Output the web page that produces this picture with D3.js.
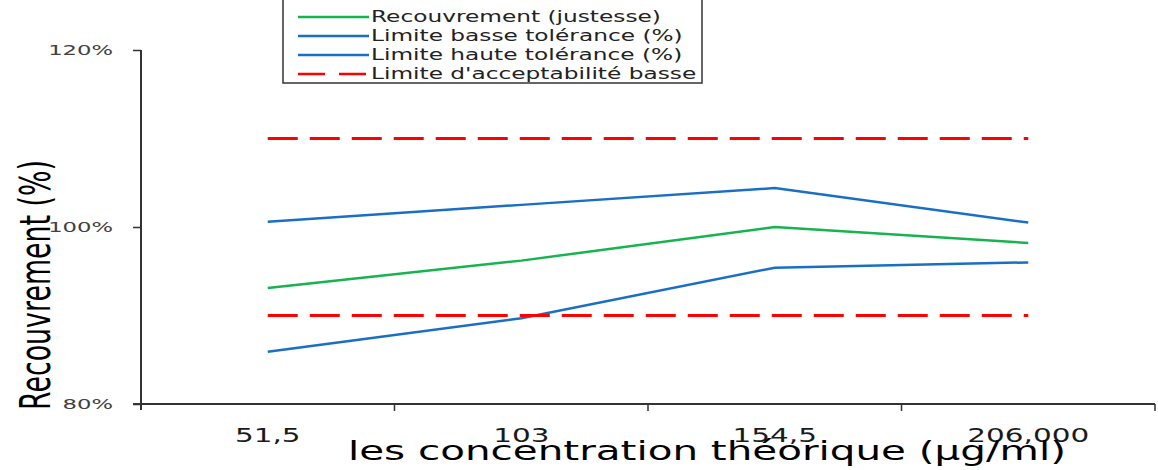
<!DOCTYPE html>
<html>
<head>
<meta charset="utf-8">
<script src="https://cdn.jsdelivr.net/npm/d3@7"></script>
<style>
  html, body { margin: 0; padding: 0; background: #fff; }
  svg { display: block; }
  text { font-family: "DejaVu Sans", Verdana, sans-serif; }
</style>
</head>
<body>
<svg id="chart" width="1158" height="470"></svg>
<script>
// Concentration levels (µg/ml) shown on the category axis
const categories = ["51,5", "103", "154,5", "206,000"];

// Recovery (%) per level
const recouvrement = [93.1, 96.2, 100.0, 98.2];
const limiteBasseTolerance = [85.9, 89.7, 95.4, 96.0];
const limiteHauteTolerance = [100.6, 102.5, 104.4, 100.5];
const acceptabiliteBasse = [90, 90, 90, 90];
const acceptabiliteHaute = [110, 110, 110, 110];

const yTicks = [80, 100, 120];
const legendLabels = [
  "Recouvrement (justesse)",
  "Limite basse tolérance (%)",
  "Limite haute tolérance (%)",
  "Limite d'acceptabilité basse"
];

const GREEN = "#17b34f", BLUE = "#1a6fc4", RED = "#ff0000", AXIS = "#333";

const svg = d3.select("#chart");

const x = d3.scaleBand().domain(categories).range([141, 1155]).padding(0);
const y = d3.scaleLinear().domain([80, 120]).range([404, 50]);
const cx = c => x(c) + x.bandwidth() / 2;

// Widen text horizontally by a factor, keeping its anchor
function stretch(sel, k) {
  sel.each(function () {
    const w = this.getComputedTextLength();
    d3.select(this).attr("textLength", w * k).attr("lengthAdjust", "spacingAndGlyphs");
  });
}

// Y axis
const yAxis = svg.append("g")
  .attr("transform", "translate(141,0)")
  .call(d3.axisLeft(y).tickValues(yTicks).tickSize(8).tickPadding(20)
    .tickFormat(d => d + "%"));
yAxis.select(".domain").attr("stroke", AXIS).attr("stroke-width", 2)
  .attr("d", "M0,50V410");
yAxis.selectAll(".tick line").attr("stroke", AXIS).attr("stroke-width", 1.5);
yAxis.selectAll(".tick text")
  .attr("fill", "#404040").attr("font-size", 14).attr("dy", "0.35em")
  .call(stretch, 1.62);

// X axis
const xAxis = svg.append("g")
  .attr("transform", "translate(0,404)")
  .call(d3.axisBottom(x).tickSize(0).tickPadding(0));
xAxis.select(".domain").attr("stroke", AXIS).attr("stroke-width", 2)
  .attr("d", "M133,0H1155");
xAxis.selectAll(".tick text")
  .attr("fill", "#1a1a1a").attr("font-size", 19).attr("y", 38).attr("dy", 0)
  .call(stretch, 1.55);
// Boundary ticks between categories
const bounds = categories.map(c => x(c)).concat([x.range()[1]]);
xAxis.selectAll(".bound").data(bounds.slice(1)).enter().append("line")
  .attr("class", "bound")
  .attr("x1", d => d).attr("x2", d => d)
  .attr("y1", 0).attr("y2", 7)
  .attr("stroke", AXIS).attr("stroke-width", 1.5);

// Axis titles
svg.append("text")
  .attr("transform", "translate(50,410) rotate(-90)")
  .attr("font-size", 43).attr("fill", "#000")
  .attr("textLength", 250).attr("lengthAdjust", "spacingAndGlyphs")
  .text("Recouvrement (%)");

svg.append("text")
  .attr("x", 348).attr("y", 460)
  .attr("font-size", 26).attr("fill", "#000")
  .attr("textLength", 718).attr("lengthAdjust", "spacingAndGlyphs")
  .text("les concentration théorique (µg/ml)");

// Series
const line = d3.line().x((d, i) => cx(categories[i])).y(d => y(d));
const series = [
  { values: recouvrement, color: GREEN, dash: null },
  { values: limiteBasseTolerance, color: BLUE, dash: null },
  { values: limiteHauteTolerance, color: BLUE, dash: null },
  { values: acceptabiliteBasse, color: RED, dash: "30,12" },
  { values: acceptabiliteHaute, color: RED, dash: "30,12" }
];
svg.append("g").selectAll("path").data(series).enter().append("path")
  .attr("d", s => line(s.values))
  .attr("fill", "none")
  .attr("stroke", s => s.color)
  .attr("stroke-width", s => s.dash ? 3 : 2.5)
  .attr("stroke-dasharray", s => s.dash)
  .attr("stroke-linejoin", "miter");

// Legend
const legend = svg.append("g");
legend.append("rect")
  .attr("x", 283).attr("y", -10).attr("width", 419).attr("height", 93)
  .attr("fill", "#fff").attr("stroke", AXIS).attr("stroke-width", 1.5);
const legendStyle = [
  { color: GREEN, dash: null },
  { color: BLUE, dash: null },
  { color: BLUE, dash: null },
  { color: RED, dash: "27,14" }
];
const rowY = [17, 36, 55, 74];
const items = legend.selectAll(".item").data(legendLabels).enter().append("g")
  .attr("transform", (d, i) => `translate(0,${rowY[i]})`);
items.append("line")
  .attr("x1", 298).attr("x2", 369).attr("y1", 0).attr("y2", 0)
  .attr("stroke", (d, i) => legendStyle[i].color)
  .attr("stroke-width", 2.5)
  .attr("stroke-dasharray", (d, i) => legendStyle[i].dash);
items.append("text")
  .attr("x", 371).attr("y", 0).attr("dy", "0.35em")
  .attr("font-size", 15).attr("fill", "#222")
  .text(d => d)
  .call(stretch, 1.55);
</script>
</body>
</html>
